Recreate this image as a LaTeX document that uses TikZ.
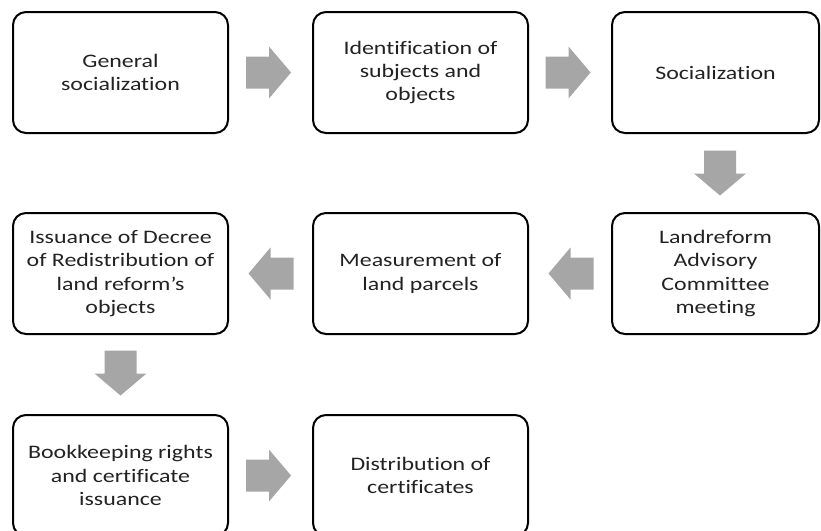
\documentclass[tikz,border=0pt]{standalone}
\usepackage{fontspec}
\setmainfont{Carlito}[FakeStretch=1.25, RawFeature={-liga;-clig}]
\usetikzlibrary{calc}
\definecolor{boxtext}{HTML}{222222}
\definecolor{arrowgray}{HTML}{A6A6A6}
\tikzset{
  stepbox/.style={draw=black, line width=2pt, rounded corners=13pt,
    minimum width=215pt, minimum height=121pt, inner sep=0pt,
    align=center, text=boxtext,
    font=\fontsize{19.1}{23.3}\selectfont},
  narrowbox/.style={stepbox, minimum width=207pt},
  blockarrow/.pic={
    \fill[arrowgray] (-22.5,-16) -- (0.5,-16) -- (0.5,-26) -- (22.5,0)
      -- (0.5,26) -- (0.5,16) -- (-22.5,16) -- cycle;
  }
}
\begin{document}
\begin{tikzpicture}[x=1pt, y=-1pt]
\useasboundingbox (0,0) rectangle (821,530);
\clip (0,0) rectangle (821,530);

% first row
\node[stepbox]   (b1) at (120.5,72.5) {General\\socialization};
\node[stepbox]   (b2) at (420.5,72.5) {Identification of\\subjects and\\objects};
\node[narrowbox] (b3) at (715.5,72.5) {Socialization};

% second row
\node[stepbox]   (b4) at (120.5,273.5) {Issuance of Decree\\of Redistribution of\\land reform’s\\objects};
\node[stepbox]   (b5) at (420.5,273.5) {Measurement of\\land parcels};
\node[narrowbox] (b6) at (715.5,273.5) {Landreform\\Advisory\\Committee\\meeting};

% third row
\node[stepbox]   (b7) at (120.5,475.5) {Bookkeeping rights\\and certificate\\issuance};
\node[stepbox]   (b8) at (420.5,475.5) {Distribution of\\certificates};

% block arrows between the steps
\path ($(b1.east)!0.5!(b2.west)+(-2,0)$) pic {blockarrow};
\path ($(b2.east)!0.5!(b3.west)+(-2,0)$) pic {blockarrow};
\path ($(b3.south)!0.5!(b6.north)+(4.5,0)$) pic[rotate=-90] {blockarrow};
\path ($(b6.west)!0.5!(b5.east)+(1,0)$) pic[rotate=180] {blockarrow};
\path ($(b5.west)!0.5!(b4.east)+(0.5,0)$) pic[rotate=180] {blockarrow};
\path ($(b4.south)!0.5!(b7.north)+(0,-1.5)$) pic[rotate=-90] {blockarrow};
\path ($(b7.east)!0.5!(b8.west)+(-2,0)$) pic {blockarrow};
\end{tikzpicture}
\end{document}
